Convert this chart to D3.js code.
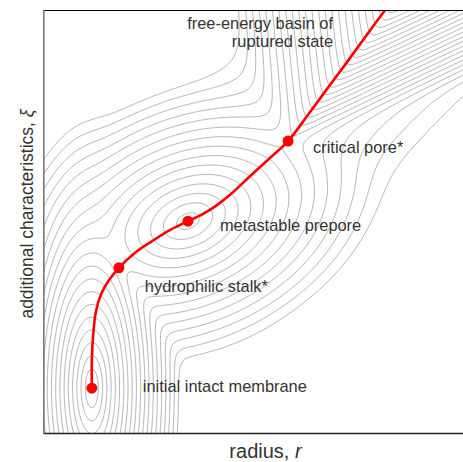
<!DOCTYPE html>
<html><head><meta charset="utf-8">
<script src="https://cdn.jsdelivr.net/npm/d3@7"></script>
<style>body{margin:0;background:#fff} svg{display:block}</style>
</head><body>
<svg id="c" width="463" height="462"></svg>
<script>
// ---- data ----
const stateNames = ["initial intact membrane", "hydrophilic stalk*", "metastable prepore", "critical pore*"];
const stateR  = [1.08, 1.69, 3.25, 5.51];
const stateXi = [1.08, 3.92, 5.02, 6.91];

const pathR  = [1.08, 1.08, 1.11, 1.17, 1.29, 1.47, 1.69, 2.05, 2.44, 2.84, 3.25, 3.59, 3.88, 4.22, 4.65, 5.10, 5.51, 5.94, 6.39, 6.84, 7.27, 7.70];
const pathXi = [1.08, 1.75, 2.33, 2.88, 3.30, 3.63, 3.92, 4.27, 4.55, 4.81, 5.02, 5.19, 5.38, 5.66, 6.08, 6.51, 6.91, 7.50, 8.14, 8.77, 9.39, 10.0];

// closed basins: centre, depth, orientation (deg), contour spacing along / across (left, right side)
const wellR        = [1.08, 3.25];
const wellXi       = [1.08, 5.02];
const wellDepth    = [-0.6, 5.0];
const wellAngle    = [0, 25];
const wellAlong    = [0.095, 0.30];
const wellAcrossL  = [0.30, 0.20];
const wellAcrossR  = [0.30, 0.20];

// open valley towards the ruptured state (starts at the critical pore)
const valleyR = 5.51, valleyXi = 6.91, valleyLevel = 14.5, valleyAngle = 53;
const valleyAlong = 0.22, valleyLeft = 0.20, valleyRight = 0.11;

// broad diagonal trough enclosing prepore, critical pore and ruptured basin
const troughR = [3.33, 9.6], troughXi = [4.57, 11.3], troughLevel = 15, troughSpacing = 0.43;

const levels = d3.range(-3, 21);

// ---- layout ----
const svg = d3.select("#c");
const x = d3.scaleLinear().domain([0, 10]).range([44, 487]);
const y = d3.scaleLinear().domain([0, 10]).range([434, 10]);

function energy(r, q) {
  const f = wellR.map((cr, i) => {
    const a = wellAngle[i] * Math.PI / 180;
    const dr = r - cr, dq = q - wellXi[i];
    const u = dr * Math.cos(a) + dq * Math.sin(a);
    const v = -dr * Math.sin(a) + dq * Math.cos(a);
    const c = v >= 0 ? wellAcrossL[i] : wellAcrossR[i];
    return wellDepth[i] + Math.sqrt(0.2 + (u / wellAlong[i]) ** 2 + (v / c) ** 2);
  });
  // valley
  const a = valleyAngle * Math.PI / 180;
  const dr = r - valleyR, dq = q - valleyXi;
  const s = dr * Math.cos(a) + dq * Math.sin(a);
  const w = dr * Math.sin(a) - dq * Math.cos(a);
  const ww = w >= 0 ? w / valleyRight : w / valleyLeft;
  f.push(valleyLevel - s / valleyAlong + Math.sqrt(0.6 + ww * ww));
  // trough (distance to segment)
  const ex = troughR[1] - troughR[0], ey = troughXi[1] - troughXi[0];
  let t = ((r - troughR[0]) * ex + (q - troughXi[0]) * ey) / (ex * ex + ey * ey);
  t = Math.max(0, Math.min(1, t));
  const dx = r - (troughR[0] + t * ex), dy = q - (troughXi[0] + t * ey);
  f.push(troughLevel + Math.sqrt(dx * dx + dy * dy) / troughSpacing);
  const m = d3.min(f), T = 0.9;
  return m - T * Math.log(d3.sum(f, v => Math.exp(-(v - m) / T)));
}

const r0 = -0.6, r1 = 10.8, q0 = -0.6, q1 = 10.6, nx = 340, ny = 320;
const values = new Float64Array(nx * ny);
for (let j = 0; j < ny; j++) for (let i = 0; i < nx; i++) {
  values[j * nx + i] = energy(r0 + (i + 0.5) * (r1 - r0) / nx, q1 - (j + 0.5) * (q1 - q0) / ny);
}
const contours = d3.contours().size([nx, ny]).thresholds(levels)(values);
const proj = d3.geoTransform({
  point: function(gx, gy) {
    this.stream.point(x(r0 + gx * (r1 - r0) / nx), y(q1 - gy * (q1 - q0) / ny));
  }
});

svg.append("clipPath").attr("id", "clip").append("rect")
  .attr("x", 44).attr("y", 10).attr("width", 443).attr("height", 424);

svg.append("g").attr("clip-path", "url(#clip)")
  .selectAll("path").data(contours).join("path")
  .attr("d", d3.geoPath(proj))
  .attr("fill", "none").attr("stroke", "#aaaaaa").attr("stroke-width", 0.9);

// minimum free-energy path
const line = d3.line().x((d, i) => x(pathR[i])).y((d, i) => y(pathXi[i])).curve(d3.curveCatmullRom.alpha(0.5));
svg.append("path").attr("d", line(pathR)).attr("fill", "none")
  .attr("stroke", "#ff0000").attr("stroke-width", 2.6).attr("clip-path", "url(#clip)");

svg.selectAll("circle.st").data(stateR).join("circle")
  .attr("cx", (d, i) => x(stateR[i])).attr("cy", (d, i) => y(stateXi[i]))
  .attr("r", 5.5).attr("fill", "#ff0000");

// labels
const labelDx = [51, 26, 32, 25], labelDy = [4, 24, 10, 12];
const font = "'Liberation Sans', Arial, Helvetica, sans-serif";
svg.selectAll("text.st").data(stateNames).join("text")
  .attr("x", (d, i) => x(stateR[i]) + labelDx[i]).attr("y", (d, i) => y(stateXi[i]) + labelDy[i])
  .attr("font-family", font).attr("font-size", 16.4).attr("fill", "#333")
  .text(d => d);

const basinLines = ["free-energy basin of", "ruptured state"];
svg.selectAll("text.bs").data(basinLines).join("text")
  .attr("x", 333).attr("y", (d, i) => 29 + i * 18)
  .attr("text-anchor", "end")
  .attr("font-family", font).attr("font-size", 16.4).attr("fill", "#333")
  .text(d => d);

// frame
svg.append("line").attr("x1", 44).attr("x2", 463).attr("y1", 10.5).attr("y2", 10.5).attr("stroke", "#000").attr("stroke-width", 1);
svg.append("line").attr("x1", 43).attr("x2", 463).attr("y1", 433.5).attr("y2", 433.5).attr("stroke", "#222").attr("stroke-width", 1.6);
svg.append("line").attr("x1", 43.8).attr("x2", 43.8).attr("y1", 10).attr("y2", 434).attr("stroke", "#777").attr("stroke-width", 1.6);

const xl = svg.append("text").attr("x", 265.5).attr("y", 458).attr("text-anchor", "middle")
  .attr("font-family", font).attr("font-size", 20).attr("fill", "#333");
xl.append("tspan").text("radius, ");
xl.append("tspan").attr("font-style", "italic").text("r");

const yl = svg.append("text").attr("transform", "translate(33,214) rotate(-90)").attr("text-anchor", "middle")
  .attr("font-family", font).attr("font-size", 17.5).attr("fill", "#333");
yl.append("tspan").text("additional characteristics, ");
yl.append("tspan").attr("font-style", "italic").text("ξ");
</script>
</body></html>
